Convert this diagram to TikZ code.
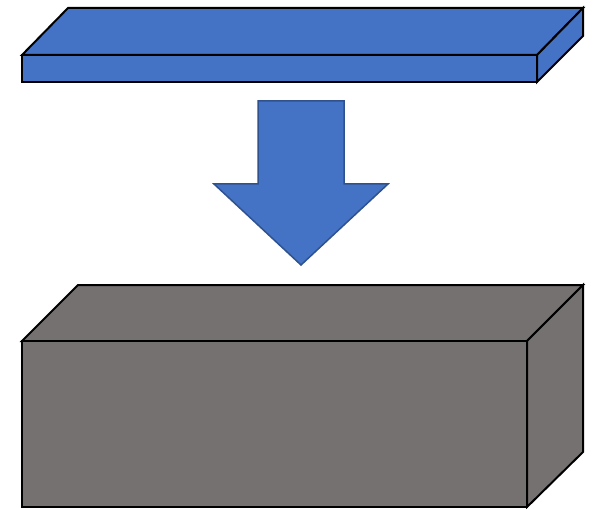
\documentclass[tikz,border=0pt]{standalone}
\definecolor{slabblue}{HTML}{4472C4}
\definecolor{arrowedge}{HTML}{2F528F}
\definecolor{boxgray}{HTML}{767171}
\tikzset{
  face/.style={draw=black, line width=2bp, line join=miter},
  slab/.style={face, fill=slabblue},
  block/.style={face, fill=boxgray},
  bigarrow/.style={draw=arrowedge, line width=1.5bp, fill=slabblue, line join=miter}
}
\begin{document}
\begin{tikzpicture}[x=1bp,y=-1bp]
\useasboundingbox (0,0) rectangle (600,509);
% top slab
\draw[slab] (22,55) -- (68,8) -- (583,8) -- (537,55) -- cycle;
\draw[slab] (537,55) -- (583,8) -- (583,36) -- (537,82) -- cycle;
\draw[slab] (22,55) rectangle (537,82);
% arrow
\draw[bigarrow] (258,101) -- (344,101) -- (344,184) -- (388,184) -- (301,265) -- (214,184) -- (258,184) -- cycle;
% block
\draw[block] (22,341) -- (78,285) -- (583,285) -- (527,341) -- cycle;
\draw[block] (527,341) -- (583,285) -- (583,452) -- (527,507) -- cycle;
\draw[block] (22,341) rectangle (527,507);
\end{tikzpicture}
\end{document}
